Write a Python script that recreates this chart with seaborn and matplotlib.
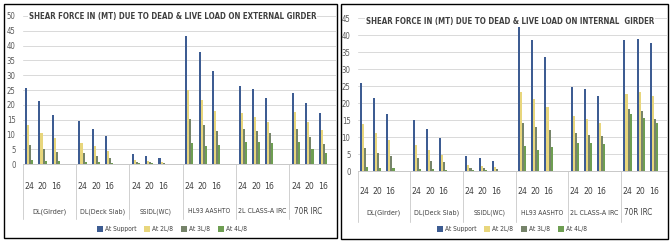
import pandas as pd
import numpy as np
import matplotlib.pyplot as plt
import matplotlib.patches as patches
from matplotlib import font_manager
from matplotlib.font_manager import FontProperties
from matplotlib.transforms import blended_transform_factory
import seaborn as sns

loads = ["DL(Girder)", "DL(Deck Slab)", "SSIDL(WC)", "HL93 AASHTO", "2L CLASS-A IRC", "70R IRC"]
spans = ["24", "20", "16"]
locations = ["At Support", "At 2L/8", "At 3L/8", "At 4L/8"]

# external girder, order: load x span
ext_support = [25.6, 21.3, 16.6, 14.6, 11.9, 9.6, 3.5, 2.8, 2.0, 43.2, 37.7, 31.4, 26.4, 25.2, 22.4, 23.9, 20.5, 17.2]
ext_2l8 = [13.3, 10.7, 8.8, 7.3, 6.0, 4.6, 1.5, 1.2, 0.9, 25.0, 21.6, 17.9, 17.2, 16.0, 14.3, 17.7, 14.3, 11.5]
ext_3l8 = [6.5, 5.2, 4.0, 3.7, 2.8, 2.0, 0.8, 0.7, 0.5, 15.2, 13.2, 11.3, 11.8, 11.2, 10.4, 11.8, 9.1, 6.8]
ext_4l8 = [1.5, 1.2, 1.0, 0.8, 0.7, 0.5, 0.3, 0.3, 0.2, 7.1, 6.3, 6.5, 7.6, 7.6, 7.1, 7.4, 5.2, 3.7]

# internal girder
int_support = [26.1, 21.7, 17.0, 15.0, 12.3, 9.8, 4.6, 3.9, 3.1, 43.0, 38.5, 33.6, 24.7, 24.2, 22.2, 38.5, 38.8, 37.7]
int_2l8 = [13.8, 11.3, 9.1, 7.8, 6.4, 4.9, 2.0, 1.7, 1.2, 23.2, 21.2, 18.8, 16.3, 15.3, 14.3, 22.7, 23.2, 22.2]
int_3l8 = [6.8, 5.5, 4.4, 3.9, 3.1, 2.6, 1.0, 0.9, 0.6, 14.3, 13.1, 12.1, 11.3, 10.8, 10.3, 18.2, 17.7, 15.3]
int_4l8 = [1.2, 1.1, 1.0, 0.8, 0.7, 0.5, 0.4, 0.3, 0.2, 7.4, 6.4, 7.1, 8.2, 8.2, 7.9, 16.8, 15.8, 14.3]

titles = ["SHEAR FORCE IN (MT) DUE TO DEAD & LIVE LOAD ON EXTERNAL GIRDER",
          "SHEAR FORCE IN (MT) DUE TO DEAD & LIVE LOAD ON INTERNAL  GIRDER"]

colors = ["#3D5C92", "#E8D67C", "#76846A", "#6E9E52"]


def make_df(series):
	rows = []
	for loc, vals in zip(locations, series):
		k = 0
		for ld in loads:
			for sp in spans:
				rows.append({"key": ld + "|" + sp, "location": loc, "value": vals[k]})
				k += 1
	return pd.DataFrame(rows)


# look for a narrow sans font (the original uses a condensed look)
def narrow_font(bold):
	best = None
	for f in font_manager.fontManager.ttflist:
		st = str(f.stretch)
		if st not in ("condensed", "semi-condensed", "extra-condensed") and "Narrow" not in f.name:
			continue
		if "Sans" not in f.name or "Mono" in f.name or "Serif" in f.name:
			continue
		w = f.weight if isinstance(f.weight, int) else (700 if "bold" in str(f.weight) else 400)
		if (w >= 600) != bold or "italic" in str(f.style) or "oblique" in str(f.style):
			continue
		if best is None or "DejaVu" in f.name:
			best = f
	if best is None:
		return FontProperties(family="DejaVu Sans", weight="bold" if bold else "normal")
	return FontProperties(fname=best.fname)


fp_reg = narrow_font(False)
fp_bold = narrow_font(True)

order = []
tick_labels = []
for i, ld in enumerate(loads):
	for sp in spans:
		order.append(ld + "|" + sp)
		tick_labels.append(sp)
	order.append("gap%d" % i)
	tick_labels.append("")

sns.set_style("white")
plt.rcParams.update({
	"font.family": ["DejaVu Sans"],
	"text.color": "#404040",
})

fig = plt.figure(figsize=(6.7, 2.42), dpi=100)
renderer = fig.canvas.get_renderer()


def fit(t, target):
	w = t.get_window_extent(renderer).width
	if w > target:
		t.set_fontsize(t.get_fontsize() * target / w)


panels = [
	dict(series=[ext_support, ext_2l8, ext_3l8, ext_4l8], rect=[0.0336, 0.321, 0.468, 0.6136],
	     ymax=50, xmax=22.38, title_xy=(172.5, 17), leg_xy=(172, 229), sub_pad=13, cat_y=-47, sep_y=-55),
	dict(series=[int_support, int_2l8, int_3l8, int_4l8], rect=[0.5336, 0.2921, 0.462, 0.6322],
	     ymax=45, xmax=22.09, title_xy=(510, 21.7), leg_xy=(512, 229), sub_pad=11.5, cat_y=-41.5, sep_y=-51),
]
cat_widths = [34, 44, 32, 42, 48, 28]

for p, title in zip(panels, titles):
	ax = fig.add_axes(p["rect"])
	df = make_df(p["series"])
	sns.barplot(ax=ax, data=df, x="key", y="value", hue="location", order=order, hue_order=locations,
	            palette=colors, width=0.62, saturation=1, errorbar=None, linewidth=0)
	ax.set_xlim(-0.5, p["xmax"])
	ax.set_ylim(0, p["ymax"])
	ax.set_yticks(np.arange(0, p["ymax"] + 1, 5))
	ax.yaxis.grid(True, color="#D9D9D9", linewidth=0.7)
	ax.set_axisbelow(True)
	ax.set_xlabel("")
	ax.set_ylabel("")
	for s in ["left", "right", "top"]:
		ax.spines[s].set_visible(False)
	ax.spines["bottom"].set_color("#C8C8C8")
	ax.spines["bottom"].set_linewidth(0.7)
	ax.set_xticks(range(len(order)))
	ax.set_xticklabels(tick_labels, color="#404040", fontproperties=fp_reg, fontsize=6.2)
	ax.tick_params(axis="x", length=0, pad=p["sub_pad"])
	for lab in ax.get_yticklabels():
		lab.set_fontproperties(fp_reg)
		lab.set_fontsize(5.6)
		lab.set_color("#595959")
	ax.tick_params(axis="y", length=0, pad=5)

	h_px = p["rect"][3] * 242
	trans = blended_transform_factory(ax.transData, ax.transAxes)
	# category names centred under visible part of each group
	for i, ld in enumerate(loads):
		lo, hi = 4 * i - 0.5, 4 * i + 3.5
		cx = (max(lo, -0.5) + min(hi, p["xmax"])) / 2
		t = ax.text(cx, p["cat_y"] / h_px, ld, transform=trans, ha="center", va="center",
		            fontproperties=fp_reg, fontsize=5.8, color="#404040")
		fit(t, cat_widths[i])
	for i in range(len(loads)):
		xb = 4 * i - 0.5
		ax.plot([xb, xb], [0, p["sep_y"] / h_px], transform=trans, color="#D0D0D0", linewidth=0.7, clip_on=False)

	t = fig.text(p["title_xy"][0] / 670, 1 - p["title_xy"][1] / 242, title, ha="center", va="center",
	             fontproperties=fp_bold, fontsize=7.5, color="#404040",
	             bbox=dict(facecolor="white", edgecolor="none", pad=0.6))
	fit(t, 288)

	leg_prop = fp_reg.copy()
	leg_prop.set_size(4.8)
	sns.move_legend(ax, "center", bbox_to_anchor=(p["leg_xy"][0] / 670, 1 - p["leg_xy"][1] / 242),
	                bbox_transform=fig.transFigure, ncol=4, frameon=False, title=None, prop=leg_prop,
	                handlelength=0.9, handleheight=0.9, handletextpad=0.3, columnspacing=1.2)

# panel borders
fig.patches.append(patches.Rectangle((4 / 670, 4 / 242), 333 / 670, 234 / 242, transform=fig.transFigure,
                                     fill=False, edgecolor="black", linewidth=1.0))
fig.patches.append(patches.Rectangle((341 / 670, 3 / 242), 327 / 670, 235 / 242, transform=fig.transFigure,
                                     fill=False, edgecolor="black", linewidth=1.0))

plt.savefig("out.png", dpi=100, facecolor="white")
